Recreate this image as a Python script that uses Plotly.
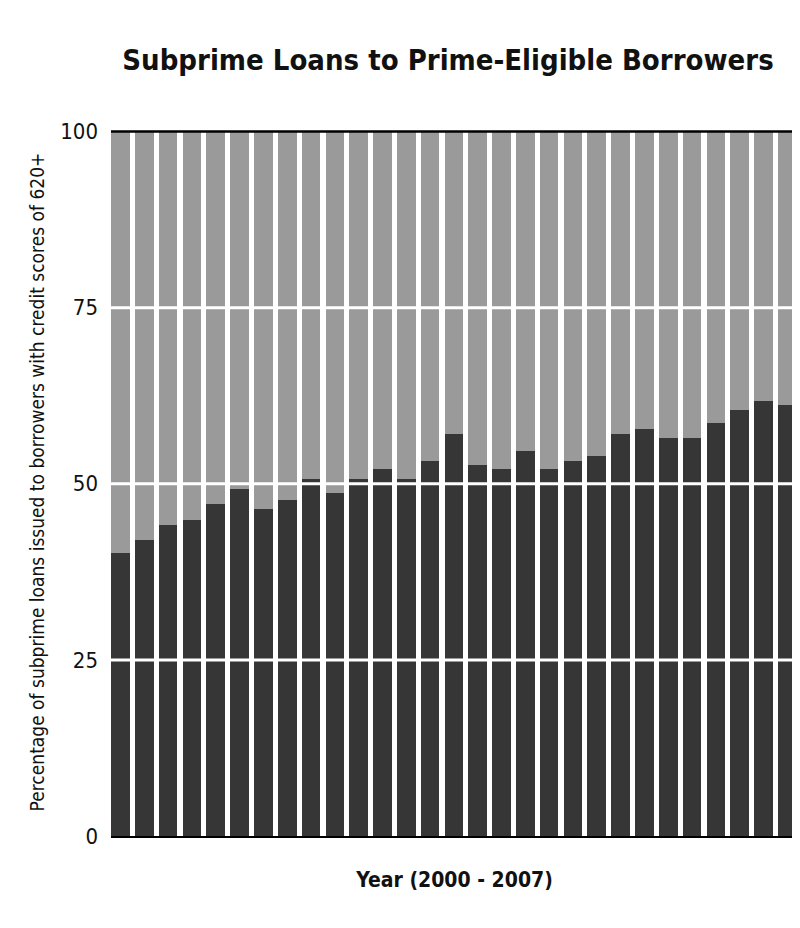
import plotly.graph_objects as go

periods = list(range(1, 30))
prime_eligible = [40.2, 42.0, 44.1, 44.9, 47.1, 49.2, 46.4, 47.7, 50.7, 48.7, 50.7, 52.1, 50.7, 53.3,
                  57.1, 52.7, 52.1, 54.7, 52.1, 53.3, 54.0, 57.1, 57.8, 56.5, 56.5, 58.6, 60.5, 61.7, 61.2]
remainder = [100 - v for v in prime_eligible]
yticks = [0, 25, 50, 75, 100]

font = "DejaVu Sans Condensed, Roboto, sans-serif"
fig = go.Figure()
fig.add_bar(x=periods, y=prime_eligible, marker_color="#363636", marker_line_width=0, width=0.78)
fig.add_bar(x=periods, y=remainder, marker_color="#9a9a9a", marker_line_width=0, width=0.78)
for t in [25, 50, 75]:
    fig.add_shape(type="line", xref="paper", x0=0, x1=1, y0=t, y1=t, line=dict(color="white", width=3), layer="above")
fig.add_shape(type="line", xref="paper", x0=0, x1=1, y0=100, y1=100, line=dict(color="black", width=2.5), layer="above")
fig.update_layout(
    barmode="stack", showlegend=False, width=800, height=928,
    paper_bgcolor="white", plot_bgcolor="white",
    margin=dict(l=103, r=10, t=120, b=100),
    title=dict(text="<b>Subprime Loans to Prime-Eligible Borrowers</b>", x=0.55, y=0.955, xanchor="center",
               font=dict(family=font, size=29, color="#111")),
    font=dict(family=font, color="#111"),
    bargap=0.2,
)
fig.update_xaxes(range=[0.6, 29.45], showticklabels=False, ticks="", showgrid=False,
                 showline=True, linecolor="black", linewidth=2,
                 title=dict(text="<b>Year (2000 - 2007)</b>", font=dict(size=21), standoff=35))
fig.update_yaxes(range=[0, 100.5], tickvals=yticks, showgrid=False, zeroline=False,
                 tickfont=dict(size=22), ticks="", ticklabelstandoff=12,
                 title=dict(text="Percentage of subprime loans issued to borrowers with credit scores of 620+",
                            font=dict(size=19), standoff=10))
fig.write_html("out.html")
